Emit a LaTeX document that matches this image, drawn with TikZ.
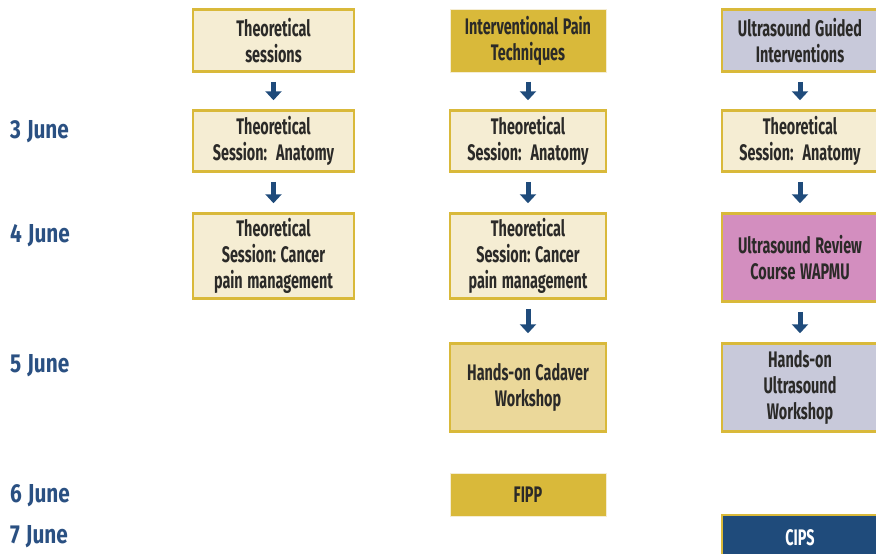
\documentclass[tikz,border=0pt]{standalone}
\usepackage{fontspec}
\setmainfont{Fira Sans}[FakeStretch=0.64]
\newfontfamily\datefont{Fira Sans}[FakeStretch=0.8]
\usetikzlibrary{arrows.meta}
\newcommand\myboxfont{\bfseries\fontsize{22.5}{26}\selectfont}
\newcommand\mydatefont{\datefont\bfseries\fontsize{26}{26}\selectfont\spaceskip=6pt\relax}
\newcommand\ws{\hspace{4.5pt}}
\newcommand\wws{\hspace{9pt}}
\definecolor{gold}{HTML}{D9B93A}
\definecolor{cream}{HTML}{F5EDD3}
\definecolor{lav}{HTML}{C8C9DA}
\definecolor{sand}{HTML}{EBD89A}
\definecolor{pinkc}{HTML}{D38EBF}
\definecolor{navy}{HTML}{1F4B7B}
\definecolor{datec}{HTML}{2A5082}
\definecolor{ink}{HTML}{2B2A28}
\tikzset{
  box/.style={draw=gold, line width=2.5pt, fill=cream, text=ink, align=center,
    font=\myboxfont, inner sep=0pt},
  w1/.style={minimum width=161pt, text width=158pt},
  w2/.style={minimum width=156pt, text width=154pt},
  flat/.style={draw=cream, line width=1pt},
  datelbl/.style={text=datec, font=\mydatefont, anchor=west, inner sep=0pt},
  flow/.style={draw=navy, line width=5pt, -{Triangle[width=16pt,length=9pt]}, shorten <=9pt, shorten >=9pt},
}
\begin{document}
\begin{tikzpicture}[x=1pt,y=1pt]
\useasboundingbox (0,0) rectangle (876,-554);
\clip (0,0) rectangle (876,-554);
% column 1
\node[box,w1,minimum height=62pt] (a0) at (273.5,-40.5) {Theoretical\\sessions};
\node[box,w1,minimum height=61pt] (a1) at (273.5,-141) {Theoretical\\Session:\wws Anatomy};
\node[box,w1,minimum height=85pt] (a2) at (273.5,-256) {Theoretical\\Session:\ws Cancer\\pain\ws management};
% column 2
\node[box,w2,flat,fill=gold,minimum height=63pt] (b0) at (528,-40.5) {Interventional\ws Pain\\Techniques};
\node[box,w2,minimum height=61pt] (b1) at (528,-141) {Theoretical\\Session:\wws Anatomy};
\node[box,w2,minimum height=85pt] (b2) at (528,-256) {Theoretical\\Session:\ws Cancer\\pain\ws management};
\node[box,w2,fill=sand,minimum height=88pt] (b3) at (528,-387.5) {Hands-on\ws Cadaver\\Workshop};
\node[box,w2,flat,fill=gold,minimum height=43pt] (b4) at (528,-494.5) {FIPP};
% column 3
\node[box,w2,fill=lav,minimum height=62pt] (c0) at (800,-40.5) {Ultrasound\ws Guided\\Interventions};
\node[box,w2,minimum height=61pt] (c1) at (800,-141) {Theoretical\\Session:\wws Anatomy};
\node[box,w2,fill=pinkc,minimum height=88pt] (c2) at (800,-257.5) {Ultrasound\ws Review\\Course\ws WAPMU};
\node[box,w2,fill=lav,minimum height=88pt] (c3) at (800,-387.5) {Hands-on\\Ultrasound\\Workshop};
\node[box,w2,fill=navy,text=white,minimum height=46pt] (c4) at (800,-538) {CIPS};
% dates
\node[datelbl] (d3) at (10,-132) {3 June};
\node[datelbl] (d4) at (10,-236) {4 June};
\node[datelbl] (d5) at (10,-366) {5 June};
\node[datelbl] (d6) at (10,-496) {6 June};
\node[datelbl] (d7) at (10,-537) {7 June};
% arrows
\draw[flow] (a0) -- (a1);
\draw[flow] (a1) -- (a2);
\draw[flow] (b0) -- (b1);
\draw[flow] (b1) -- (b2);
\draw[flow] (b2) -- (b3);
\draw[flow] (c0) -- (c1);
\draw[flow] (c1) -- (c2);
\draw[flow] (c2) -- (c3);
\end{tikzpicture}
\end{document}
